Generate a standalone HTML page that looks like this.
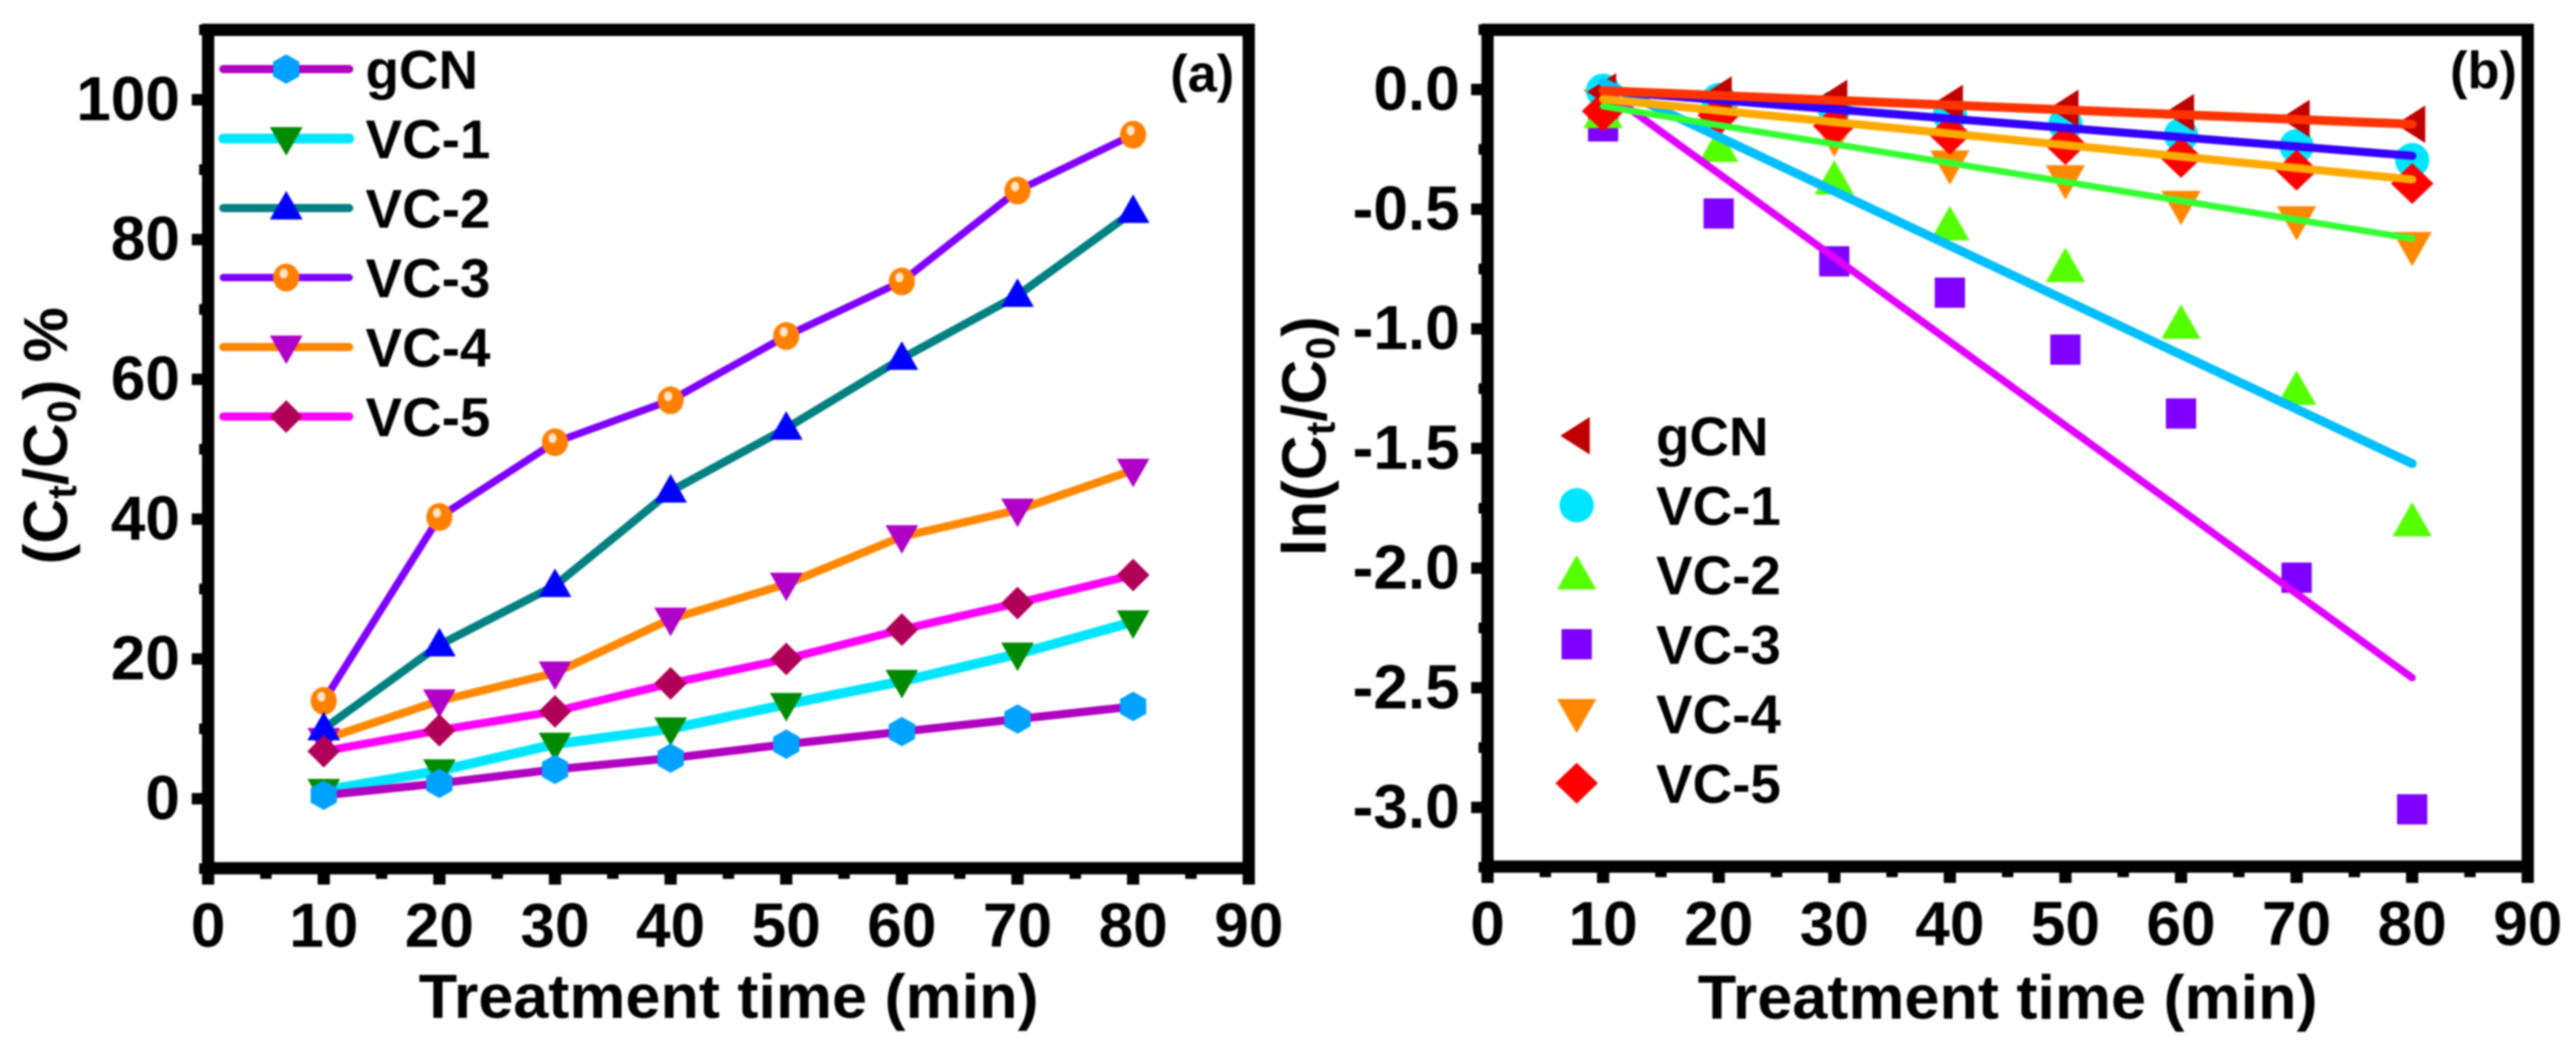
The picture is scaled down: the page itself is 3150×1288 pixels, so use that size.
<!DOCTYPE html>
<html lang="en">
<head>
<meta charset="utf-8">
<title>Treatment time charts</title>
<style>
html,body{margin:0;padding:0;background:#fff;width:3150px;height:1288px;overflow:hidden}
svg{display:block;filter:blur(1px)}
text{font-family:"Liberation Sans",Arial,sans-serif;font-weight:700;fill:#000}
</style>
</head>
<body>
<svg id="chart" xmlns="http://www.w3.org/2000/svg" width="3150" height="1288" viewBox="0 0 3150 1288">
  <rect x="0" y="0" width="3150" height="1288" fill="#fff"/>
  <g id="panelA"></g>
  <g id="panelB"></g>
  <text x="1431" y="112" font-size="64">(a)</text>
  <text x="2996" y="108" font-size="64">(b)</text>
  <text x="512" y="1245" font-size="76" textLength="758" lengthAdjust="spacingAndGlyphs">Treatment time (min)</text>
  <text x="2076" y="1246" font-size="76" textLength="758" lengthAdjust="spacingAndGlyphs">Treatment time (min)</text>
  <text text-anchor="middle" font-size="76" transform="translate(82 533) rotate(-90)">(C<tspan font-size="50" dy="11">t</tspan><tspan dy="-11">/C</tspan><tspan font-size="50" dy="11">0</tspan><tspan dy="-11">) %</tspan></text>
  <text text-anchor="middle" font-size="76" transform="translate(1621 533.5) rotate(-90)">ln(C<tspan font-size="50" dy="11">t</tspan><tspan dy="-11">/C</tspan><tspan font-size="50" dy="11">0</tspan><tspan dy="-11">)</tspan></text>
</svg>
<script>
// Shared categories
const times = [10, 20, 30, 40, 50, 60, 70, 80];
const xTickLabels = [0, 10, 20, 30, 40, 50, 60, 70, 80, 90];
const xMinorTicks = [5, 15, 25, 35, 45, 55, 65, 75, 85];
const seriesNames = ["gCN", "VC-1", "VC-2", "VC-3", "VC-4", "VC-5"];

// Panel (a) values
const aGcn = [0.5, 2.2, 4.2, 5.8, 7.8, 9.6, 11.4, 13.2];
const aVc1 = [1.2, 4, 7.8, 10, 13.5, 16.8, 20.7, 25.3];
const aVc2 = [10, 22, 30.5, 44, 53, 63, 72, 84];
const aVc3 = [14, 40.3, 51, 57, 66.2, 74, 87, 95];
const aVc4 = [8.5, 14, 18, 25.7, 30.7, 37.5, 41.3, 47];
const aVc5 = [6.8, 9.8, 12.5, 16.5, 20, 24.2, 28, 32];
const aYTicks = [0, 20, 40, 60, 80, 100];
const aYMinorTicks = [-10, 10, 30, 50, 70, 90, 110];

// Panel (b) scatter values
const bGcn = [-0.01, -0.023, -0.037, -0.058, -0.079, -0.097, -0.121, -0.145];
const bVc1 = [-0.005, -0.044, -0.075, -0.107, -0.145, -0.19, -0.237, -0.295];
const bVc2 = [-0.1, -0.241, -0.377, -0.569, -0.743, -0.98, -1.256, -1.806];
const bVc3 = [-0.154, -0.518, -0.718, -0.849, -1.087, -1.354, -2.04, -3.008];
const bVc4 = [-0.06, -0.13, -0.2, -0.316, -0.378, -0.485, -0.549, -0.657];
const bVc5 = [-0.09, -0.107, -0.153, -0.188, -0.23, -0.284, -0.337, -0.393];

// Panel (b) fit-line values at the first and last time
const fitTimes = [10, 80];
const fitGcn = [-0.005, -0.145];
const fitVc1 = [-0.005, -0.277];
const fitVc2 = [-0.07, -0.623];
const fitVc3 = [0.03, -1.563];
const fitVc4 = [-0.04, -0.376];
const fitVc5 = [0, -2.458];

const bYTicks = [0, -0.5, -1, -1.5, -2, -2.5, -3];
const bYMinorTicks = [0.25, -0.25, -0.75, -1.25, -1.75, -2.25, -2.75, -3.25];

const NS = "http://www.w3.org/2000/svg";

function xA(t) { return 254.5 + t * (1527 - 254.5) / 90; }
function yA(v) { return 977 - v * 8.55; }
function xB(t) { return 1819 + t * (3091 - 1819) / 90; }
function yB(v) { return 109.5 - v * 292.7; }

function el(tag, parent, props) {
  const node = document.createElementNS(NS, tag);
  for (const k in props) node.setAttribute(k, props[k]);
  parent.appendChild(node);
  return node;
}

function drawMarker(parent, shape, cx, cy, color, name) {
  const g = el("g", parent, {});
  
  
  const poly = pts => el("polygon", g, { fill: color, points: pts.map(p => (cx + p[0]) + "," + (cy + p[1])).join(" ") });
  if (shape === "hex") poly([[0, -18], [16, -9], [16, 9], [0, 18], [-16, 9], [-16, -9]]);
  if (shape === "down") poly([[-20, -14], [20, -14], [0, 21]]);
  if (shape === "up") poly([[0, -21], [20, 14], [-20, 14]]);
  if (shape === "diamond") poly([[0, -20], [20, 0], [0, 20], [-20, 0]]);
  if (shape === "ball") {
    el("ellipse", g, { cx: cx, cy: cy, rx: 16, ry: 17, fill: color });
    el("ellipse", g, { cx: cx - 3, cy: cy - 5, rx: 5, ry: 6, fill: "#ffe6cc" });
  }
  if (shape === "bigUp") poly([[0, -24], [24, 18], [-24, 18]]);
  if (shape === "bigDown") poly([[-24, -18], [24, -18], [0, 24]]);
  if (shape === "bigDiamond") poly([[0, -25], [26, 0], [0, 25], [-26, 0]]);
  if (shape === "left") poly([[-20, 0], [16, -23], [16, 23]]);
  if (shape === "square") el("rect", g, { x: cx - 18.5, y: cy - 18.5, width: 37, height: 37, fill: color });
  if (shape === "circle") el("ellipse", g, { cx: cx, cy: cy, rx: 21, ry: 21, fill: color });
}

function drawAxes(parent, prefix, fx, fy, top, bottom, yLabels, yMinor, yFormat, labelRight, xBaseline) {
  const left = fx(0), right = fx(90);
  const frame = el("rect", parent, { x: left, y: top, width: right - left, height: bottom - top, fill: "none", stroke: "#000", "stroke-width": 15 });
  
  
  xTickLabels.forEach(t => {
    const tick = el("line", parent, { x1: fx(t), x2: fx(t), y1: bottom, y2: bottom + 20, stroke: "#000", "stroke-width": 15 });
    
    
    const lab = el("text", parent, { x: fx(t), y: xBaseline, "font-size": 76, "text-anchor": "middle" });
    
    
    lab.textContent = t;
  });
  xMinorTicks.forEach(t => {
    const tick = el("line", parent, { x1: fx(t), x2: fx(t), y1: bottom, y2: bottom + 13, stroke: "#000", "stroke-width": 14 });
    
    
  });
  yLabels.forEach(v => {
    const tick = el("line", parent, { x1: left - 20, x2: left, y1: fy(v), y2: fy(v), stroke: "#000", "stroke-width": 14 });
    
    
    const lab = el("text", parent, { x: labelRight, y: fy(v) + 25, "font-size": 76, "text-anchor": "end" });
    
    
    lab.textContent = yFormat(v);
  });
  yMinor.forEach(v => {
    const tick = el("line", parent, { x1: left - 11, x2: left, y1: fy(v), y2: fy(v), stroke: "#000", "stroke-width": 13 });
    
    
  });
}

/* ---------- Panel (a) ---------- */
const panelA = document.getElementById("panelA");
drawAxes(panelA, "panel-a", xA, yA, 36.5, 1062, aYTicks, aYMinorTicks, v => String(v), 220, 1158);

const aSeries = [
  { i: 3, values: aVc3, line: "#7f00ff", mark: "#ff8000", shape: "ball", w: 9 },
  { i: 4, values: aVc4, line: "#ff8800", mark: "#b000c8", shape: "down", w: 10 },
  { i: 2, values: aVc2, line: "#008080", mark: "#0000ff", shape: "up", w: 10 },
  { i: 5, values: aVc5, line: "#ff00ff", mark: "#b00058", shape: "diamond", w: 10 },
  { i: 1, values: aVc1, line: "#00e5ff", mark: "#008a00", shape: "down", w: 12 },
  { i: 0, values: aGcn, line: "#b000c0", mark: "#00a2ff", shape: "hex", w: 10 }
];
aSeries.forEach(s => {
  const nm = seriesNames[s.i].toLowerCase();
  const path = el("polyline", panelA, {
    points: times.map((t, k) => xA(t) + "," + yA(s.values[k])).join(" "),
    fill: "none", stroke: s.line, "stroke-width": s.w, "stroke-linejoin": "round", "stroke-linecap": "round"
  });
  
  
  times.forEach((t, k) => drawMarker(panelA, s.shape, xA(t), yA(s.values[k]), s.mark, 'panel-a-point-' + nm));
  const ly = 84.5 + s.i * 85;
  const legendLine = el("line", panelA, { x1: 273, x2: 427, y1: ly, y2: ly, stroke: s.line, "stroke-width": s.w, "stroke-linecap": "round" });
  
  
  drawMarker(panelA, s.shape, 350, ly, s.mark, 'panel-a-legend-marker-' + nm);
  const label = el("text", panelA, { x: 447, y: ly + 24, "font-size": 67 });
  
  
  label.textContent = seriesNames[s.i];
});

/* ---------- Panel (b) ---------- */
const panelB = document.getElementById("panelB");
drawAxes(panelB, "panel-b", xB, yB, 36.5, 1060, bYTicks, bYMinorTicks, v => v.toFixed(1), 1785, 1156);

const bSeries = [
  { i: 3, values: bVc3, mark: "#7f00ff", shape: "square" },
  { i: 2, values: bVc2, mark: "#55ff00", shape: "bigUp" },
  { i: 4, values: bVc4, mark: "#ff8800", shape: "bigDown" },
  { i: 1, values: bVc1, mark: "#00e5ff", shape: "circle" },
  { i: 5, values: bVc5, mark: "#ff0000", shape: "bigDiamond" },
  { i: 0, values: bGcn, mark: "#c00000", shape: "left" }
];
bSeries.forEach(s => {
  const nm = seriesNames[s.i].toLowerCase();
  times.forEach((t, k) => drawMarker(panelB, s.shape, xB(t), yB(s.values[k]), s.mark, 'panel-b-point-' + nm));
  const ly = 533 + s.i * 85;
  drawMarker(panelB, s.shape, 1928, ly, s.mark, 'panel-b-legend-marker-' + nm);
  const label = el("text", panelB, { x: 2025, y: ly + 24, "font-size": 67 });
  
  
  label.textContent = seriesNames[s.i];
});

const bFits = [
  { name: "vc-5", values: fitVc5, color: "#e000ff", w: 9 },
  { name: "vc-3", values: fitVc3, color: "#00bfff", w: 11 },
  { name: "vc-2", values: fitVc2, color: "#33ff33", w: 8 },
  { name: "vc-4", values: fitVc4, color: "#ffaa00", w: 10 },
  { name: "vc-1", values: fitVc1, color: "#3300ff", w: 10 },
  { name: "gcn", values: fitGcn, color: "#ff3300", w: 11 }
];
bFits.forEach(f => {
  const line = el("line", panelB, {
    x1: xB(fitTimes[0]), y1: yB(f.values[0]), x2: xB(fitTimes[1]), y2: yB(f.values[1]),
    stroke: f.color, "stroke-width": f.w, "stroke-linecap": "round"
  });
  
  
});
</script>
</body>
</html>
